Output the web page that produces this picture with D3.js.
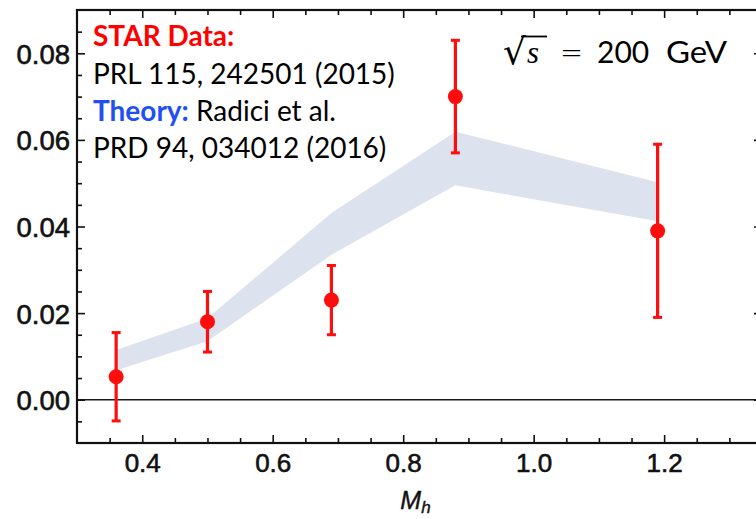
<!DOCTYPE html>
<html>
<head>
<meta charset="utf-8">
<script src="https://cdn.jsdelivr.net/npm/d3@7"></script>
<style>
  html, body { margin: 0; padding: 0; background: #fff; }
  svg { display: block; }
</style>
</head>
<body>
<svg id="chart" width="756" height="519"></svg>
<script>
// Dihadron asymmetry vs invariant mass M_h, STAR data with theory band
const mh       = [0.36, 0.50, 0.69, 0.88, 1.19];
const aut      = [0.0053, 0.0180, 0.0230, 0.0700, 0.0390];
const autErr   = [0.0102, 0.0070, 0.0080, 0.0130, 0.0200];
const bandLow  = [0.0068, 0.0135, 0.0335, 0.0495, 0.0412];
const bandHigh = [0.0115, 0.0188, 0.0431, 0.0619, 0.0502];

const xMajor = [0.4, 0.6, 0.8, 1.0, 1.2];
const xMinor = [0.35, 0.45, 0.5, 0.55, 0.65, 0.7, 0.75, 0.85, 0.9, 0.95, 1.05, 1.1, 1.15, 1.25, 1.3];
const yMajor = [0.00, 0.02, 0.04, 0.06, 0.08];
const yMinor = [-0.005, 0.005, 0.01, 0.015, 0.025, 0.03, 0.035, 0.045, 0.05, 0.055, 0.065, 0.07, 0.075, 0.085];

const W = 756, H = 519;
const margin = { top: 10, right: -6, bottom: 76, left: 77 };

const svg = d3.select("#chart");

const x = d3.scaleLinear().domain([0.3, 1.35]).range([margin.left, W - margin.right]);
const y = d3.scaleLinear().domain([-0.01, 0.09]).range([H - margin.bottom, margin.top]);

const plot = svg.append("g");

// theory band
const pts = mh.map((m, i) => ({ m, lo: bandLow[i], hi: bandHigh[i] }));
plot.append("path")
  .datum(pts)
  .attr("fill", "#dce3ee")
  .attr("d", d3.area().x(d => x(d.m)).y0(d => y(d.lo)).y1(d => y(d.hi)));

// zero line
plot.append("line")
  .attr("x1", x(0.3)).attr("x2", x(1.35))
  .attr("y1", y(0)).attr("y2", y(0))
  .attr("stroke", "#1a1a1a").attr("stroke-width", 1.6);

// axes: ticks point inward on all four sides
const fontAxis = "'Liberation Sans', Arial, sans-serif";
function styleAxis(g, size) {
  g.select(".domain").remove();
  g.selectAll(".tick line").attr("stroke", "#111").attr("stroke-width", 1.6);
  g.selectAll(".tick text")
    .attr("font-family", fontAxis).attr("font-size", size || 26)
    .attr("fill", "#111").attr("stroke", "#111").attr("stroke-width", 0.6);
}

const yAxisG = svg.append("g").attr("transform", `translate(${x(0.3)},0)`)
  .call(d3.axisLeft(y).tickValues(yMajor).tickFormat(d3.format(".2f"))
        .tickSizeInner(-8).tickSizeOuter(0).tickPadding(7));
styleAxis(yAxisG, 27.5);
yAxisG.selectAll(".tick text").attr("dy", "0.36em");

const yMinorG = svg.append("g").attr("transform", `translate(${x(0.3)},0)`)
  .call(d3.axisLeft(y).tickValues(yMinor).tickFormat("").tickSizeInner(-5).tickSizeOuter(0));
styleAxis(yMinorG);

const yRight = svg.append("g").attr("transform", `translate(${x(1.35)},0)`)
  .call(d3.axisRight(y).tickValues(yMajor).tickFormat("").tickSizeInner(-8).tickSizeOuter(0));
styleAxis(yRight);
const yRightMinor = svg.append("g").attr("transform", `translate(${x(1.35)},0)`)
  .call(d3.axisRight(y).tickValues(yMinor).tickFormat("").tickSizeInner(-5).tickSizeOuter(0));
styleAxis(yRightMinor);

const xAxisG = svg.append("g").attr("transform", `translate(0,${y(-0.01)})`)
  .call(d3.axisBottom(x).tickValues(xMajor).tickFormat(d3.format(".1f"))
        .tickSizeInner(-8).tickSizeOuter(0).tickPadding(11));
styleAxis(xAxisG, 26);

const xMinorG = svg.append("g").attr("transform", `translate(0,${y(-0.01)})`)
  .call(d3.axisBottom(x).tickValues(xMinor).tickFormat("").tickSizeInner(-5).tickSizeOuter(0));
styleAxis(xMinorG);

const xTop = svg.append("g").attr("transform", `translate(0,${y(0.09)})`)
  .call(d3.axisTop(x).tickValues(xMajor).tickFormat("").tickSizeInner(-8).tickSizeOuter(0));
styleAxis(xTop);
const xTopMinor = svg.append("g").attr("transform", `translate(0,${y(0.09)})`)
  .call(d3.axisTop(x).tickValues(xMinor).tickFormat("").tickSizeInner(-5).tickSizeOuter(0));
styleAxis(xTopMinor);

// frame
svg.append("rect")
  .attr("x", x(0.3)).attr("y", y(0.09))
  .attr("width", x(1.35) - x(0.3)).attr("height", y(-0.01) - y(0.09))
  .attr("fill", "none").attr("stroke", "#111").attr("stroke-width", 2.2);

// x-axis title M_h
const xt = svg.append("text")
  .attr("x", (x(0.3) + x(1.35)) / 2 - 4).attr("y", 509)
  .attr("text-anchor", "middle")
  .attr("font-family", fontAxis).attr("font-style", "italic")
  .attr("font-size", 25).attr("fill", "#111")
  .attr("stroke", "#111").attr("stroke-width", 0.4);
xt.append("tspan").text("M");
xt.append("tspan").attr("font-size", 17).attr("dy", 4).text("h");

// STAR data points with error bars
const data = mh.map((m, i) => ({ m, v: aut[i], e: autErr[i] }));
const red = "#ff0d0d";
const pg = plot.selectAll("g.pt").data(data).join("g").attr("class", "pt");
pg.append("line")
  .attr("x1", d => x(d.m)).attr("x2", d => x(d.m))
  .attr("y1", d => y(d.v - d.e)).attr("y2", d => y(d.v + d.e))
  .attr("stroke", red).attr("stroke-width", 3.2);
pg.append("line")
  .attr("x1", d => x(d.m) - 4.5).attr("x2", d => x(d.m) + 4.5)
  .attr("y1", d => y(d.v + d.e)).attr("y2", d => y(d.v + d.e))
  .attr("stroke", red).attr("stroke-width", 3);
pg.append("line")
  .attr("x1", d => x(d.m) - 4.5).attr("x2", d => x(d.m) + 4.5)
  .attr("y1", d => y(d.v - d.e)).attr("y2", d => y(d.v - d.e))
  .attr("stroke", red).attr("stroke-width", 3);
pg.append("circle")
  .attr("cx", d => x(d.m)).attr("cy", d => y(d.v))
  .attr("r", 7.5).attr("fill", red);

// legend text
const fontText = "Lato, 'Open Sans', sans-serif";
const leg = svg.append("g").attr("font-family", fontText).attr("font-size", 28).attr("fill", "#000");
leg.append("text").attr("x", 93).attr("y", 46)
  .attr("font-weight", "bold").attr("fill", "#ff0000").text("STAR Data:");
leg.append("text").attr("x", 93).attr("y", 84).text("PRL 115, 242501 (2015)");
const th = leg.append("text").attr("x", 93).attr("y", 121);
th.append("tspan").attr("font-weight", "bold").attr("fill", "#1f4ff5").text("Theory:");
th.append("tspan").text(" Radici et al.");
leg.append("text").attr("x", 93).attr("y", 158).text("PRD 94, 034012 (2016)");

// energy label: sqrt(s) = 200 GeV
const en = svg.append("g").attr("fill", "#000");
en.append("text").attr("x", 503).attr("y", 64)
  .attr("font-family", "'DejaVu Sans', sans-serif").attr("font-size", 36).text("√");
en.append("line").attr("x1", 521).attr("x2", 547).attr("y1", 36.5).attr("y2", 36.5)
  .attr("stroke", "#000").attr("stroke-width", 1.8);
en.append("text").attr("x", 527).attr("y", 63)
  .attr("font-family", "'Liberation Serif', serif").attr("font-style", "italic")
  .attr("font-size", 31).text("s");
en.append("text").attr("x", 571.5).attr("y", 63).attr("text-anchor", "middle")
  .attr("font-family", "'DejaVu Sans', sans-serif").attr("font-weight", 300)
  .attr("font-size", 30).attr("textLength", 23).attr("lengthAdjust", "spacingAndGlyphs").text("=");
en.append("text").attr("x", 597).attr("y", 63)
  .attr("font-family", fontText).attr("font-size", 30).text("200");
en.append("text").attr("x", 666).attr("y", 63)
  .attr("font-family", fontText).attr("font-size", 30)
  .attr("textLength", 61).attr("lengthAdjust", "spacingAndGlyphs").text("GeV");
</script>
</body>
</html>
